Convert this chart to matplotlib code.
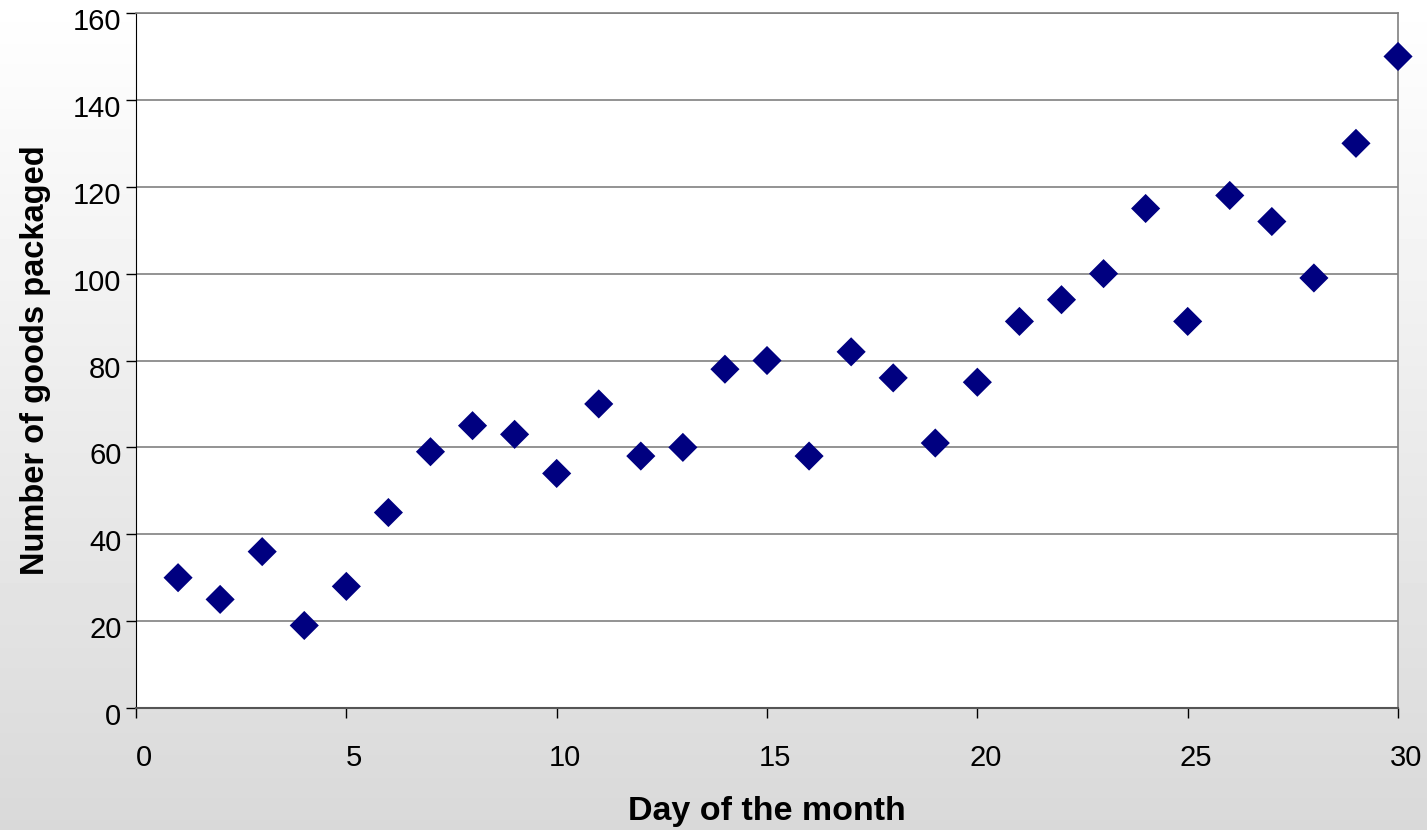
import numpy as np
import matplotlib.pyplot as plt
from matplotlib.transforms import ScaledTranslation

days = list(range(1, 31))
goods = [30, 25, 36, 19, 28, 45, 59, 65, 63, 54,
         70, 58, 60, 78, 80, 58, 82, 76, 61, 75,
         89, 94, 100, 115, 89, 118, 112, 99, 130, 150]

x_ticks = [0, 5, 10, 15, 20, 25, 30]
y_ticks = [0, 20, 40, 60, 80, 100, 120, 140, 160]

plt.rcParams["font.family"] = ["Liberation Sans", "DejaVu Sans"]

fig = plt.figure(figsize=(14.27, 8.30), dpi=100)

# vertical white-to-grey gradient behind everything
bg = fig.add_axes([0, 0, 1, 1], zorder=-10)
grad = np.linspace(1.0, 0.85, 256).reshape(-1, 1)
bg.imshow(grad, aspect="auto", cmap="gray", vmin=0, vmax=1,
          extent=[0, 1, 0, 1])
bg.axis("off")

ax = fig.add_axes([0.0953, 0.147, 0.8844, 0.8373])
ax.set_facecolor("white")
ax.scatter(days, goods, marker="D", s=220, color="#000080",
           edgecolors="none", zorder=3, clip_on=False)

ax.set_xlim(0, 30)
ax.set_ylim(0, 160)
ax.set_xticks(x_ticks)
ax.set_yticks(y_ticks)
ax.yaxis.grid(True, color="#808080", linewidth=1.2)
ax.set_axisbelow(True)

for side in ("top", "right"):
    ax.spines[side].set_color("#808080")
    ax.spines[side].set_linewidth(1.2)
ax.spines["left"].set_color("black")
ax.spines["bottom"].set_color("#555555")
ax.spines["bottom"].set_linewidth(1.5)

ax.tick_params(axis="x", direction="out", length=7, width=1,
               pad=19, labelsize=21)
ax.tick_params(axis="y", direction="out", length=7, width=1,
               pad=3.5, labelsize=21)

# tick labels sit slightly right / below their ticks
shift_x = ScaledTranslation(8 / 100, 0, fig.dpi_scale_trans)
shift_y = ScaledTranslation(0, -6 / 100, fig.dpi_scale_trans)
for lbl in ax.get_xticklabels():
    lbl.set_transform(lbl.get_transform() + shift_x)
for lbl in ax.get_yticklabels():
    lbl.set_transform(lbl.get_transform() + shift_y)

ax.set_xlabel("Day of the month", fontsize=24.5, fontweight="bold",
              labelpad=17)
ax.set_ylabel("Number of goods packaged", fontsize=23.5,
              fontweight="bold", labelpad=16)

fig.savefig("out.png", dpi=100)
